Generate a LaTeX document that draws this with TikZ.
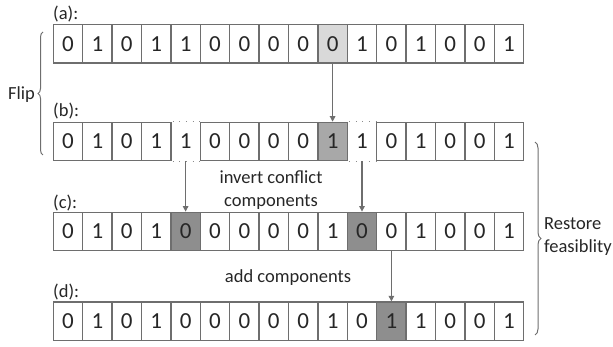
\documentclass[tikz,border=0pt]{standalone}
\usepackage{fontspec}
\setmainfont{Carlito}
\usetikzlibrary{arrows.meta,decorations.pathreplacing}
\definecolor{ink}{HTML}{262626}
\definecolor{edge}{HTML}{6E6E6E}
\definecolor{fillA}{HTML}{D9D9D9}
\definecolor{fillB}{HTML}{A8A8A8}
\definecolor{fillC}{HTML}{8E8E8E}
\tikzset{
  cell/.style={draw=edge, line width=1.3pt, minimum width=29.4pt, minimum height=38.5pt,
    inner sep=0pt, text=ink, font=\fontsize{23}{27}\selectfont},
  lbl/.style={text=ink, font=\fontsize{18.5}{23}\selectfont, inner sep=0pt},
  rowlbl/.style={lbl, anchor=west},
  arr/.style={draw=edge, line width=1.1pt, -{Triangle[width=5.5pt,length=5.5pt]}},
  dotline/.style={draw=edge!80, line width=1.1pt, dash pattern=on 1.1pt off 5.5pt, line cap=butt},
  bracestyle/.style={draw=edge, line width=1pt, decorate, decoration={brace, amplitude=5pt}},
  c-a9/.style={fill=fillA},
  c-b9/.style={fill=fillB},
  c-c4/.style={fill=fillC},
  c-c10/.style={fill=fillC},
  c-d11/.style={fill=fillC},
  c-b4/.style={draw=none},
  c-b10/.style={draw=none},
}
\begin{document}
\begin{tikzpicture}[x=1pt,y=1pt]
\useasboundingbox (0,0) rectangle (613,347);
% rows
\foreach \r/\yy/\vals in {a/303.3/{0,1,0,1,1,0,0,0,0,0,1,0,1,0,0,1},
                          b/205.4/{0,1,0,1,1,0,0,0,0,1,1,0,1,0,0,1},
                          c/115.5/{0,1,0,1,0,0,0,0,0,1,0,0,1,0,0,1},
                          d/25.7/{0,1,0,1,0,0,0,0,0,1,0,1,1,0,0,1}}{
  \foreach \v [count=\i from 0] in \vals {
    \node[cell, c-\r\i/.try] (\r\i) at ({68+29.4*\i},\yy) {\v};
  }
}
% dotted cells
\foreach \n in {b4,b10}{
  \draw[dotline] ([xshift=2.5pt]\n.north west) -- ([xshift=-1pt]\n.north east);
  \draw[dotline] ([xshift=2.5pt]\n.south west) -- ([xshift=-1pt]\n.south east);
}
% row labels
\node[rowlbl] (la) at (53,333) {(a):};
\node[rowlbl] (lb) at (53,236) {(b):};
\node[rowlbl] (lc) at (53,144) {(c):};
\node[rowlbl] (ld) at (53,55) {(d):};
% arrows
\draw[arr] (a9.south) -- (b9.north);
\draw[arr] (b4.south) -- (c4.north);
\draw[arr] (b10.south) -- (c10.north);
\draw[arr] (c11.south) -- (d11.north);
% texts
\node[lbl, align=center] (inv) at (271,157) {invert conflict\\components};
\node[lbl] (add) at (288,69) {add components};
% braces
\coordinate (lbB) at (43,192);
\coordinate (lbT) at (43,315);
\draw[bracestyle] (lbB) -- (lbT);
\node[lbl, anchor=east] (flip) at (35,252) {Flip};
\coordinate (rbT) at (535,205);
\coordinate (rbB) at (535,12);
\draw[bracestyle, decoration={amplitude=6pt}] (rbT) -- (rbB);
\node[lbl, anchor=west, align=left] (rest) at (544,110) {Restore\\feasiblity};
\end{tikzpicture}
\end{document}
